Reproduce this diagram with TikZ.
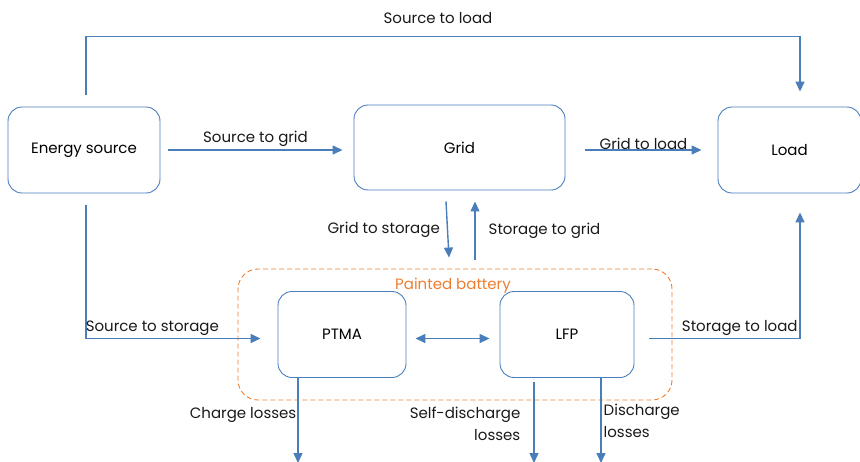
\documentclass[tikz,border=0pt]{standalone}
\usepackage{fontspec}
\setmainfont{Poppins}
\usetikzlibrary{arrows.meta, positioning}
\definecolor{flowblue}{HTML}{4A7EBB}
\definecolor{batteryorange}{HTML}{ED7D31}

\begin{document}
\begin{tikzpicture}[x=1pt, y=-1pt,
    block/.style={rectangle, rounded corners=14pt, draw=flowblue, line width=0.9pt, minimum width=152pt, minimum height=86pt, font=\fontsize{15}{18}\selectfont},
    flow/.style={draw=flowblue, line width=1.4pt, >={Triangle[length=10pt, width=9pt]}, ->},
    flow label/.style={font=\fontsize{15}{22}\selectfont, text=black!90, inner sep=1pt}
]
    \useasboundingbox (0,0) rectangle (860,461);

    % --- BLOCKS ---
    \node[block] (src) at (84,150) {Energy source};
    \node[block, minimum width=211pt, minimum height=85pt] (grid) at (459.5,147.5) {Grid};
    \node[block, minimum width=143pt] (load) at (789.5,150) {Load};

    % --- PAINTED BATTERY ---
    \node[draw=batteryorange, dash pattern=on 5pt off 3pt, line width=0.9pt, rounded corners=20pt, minimum width=434pt, minimum height=131pt] (battery) at (455,334.5) {};
    \node[font=\fontsize{15}{18}\selectfont, text=batteryorange, inner sep=0pt] (batterylabel) at (453,286) {Painted battery};
    \node[block, minimum width=128pt] (ptma) at (342,334.5) {PTMA};
    \node[block, minimum width=134pt] (lfp) at (567,334.5) {LFP};

    % free ends of the loss arrows
    \coordinate (chargeout) at (298,463);
    \coordinate (selfout) at (534,463);
    \coordinate (dischargeout) at (601,463);

    % --- FLOWS ---
    \draw[flow] ([xshift=2pt, yshift=12pt]src.north) -- ++(0,-58) -| ([xshift=10.5pt, yshift=15pt]load.north);
    \node[flow label] (s2l) at (438,18) {Source to load};

    \draw[flow] ([xshift=8pt]src.east) -- ([xshift=-11pt]src.east -| grid.west)
        node[midway, above=2pt, flow label] {Source to grid};
    \draw[flow] ([xshift=20pt]grid.east |- src.east) -- ([xshift=-16pt]load.west)
        node[midway, above=-1pt, flow label] {Grid to load};

    \draw[flow] ([xshift=-13.5pt, yshift=-11pt]grid.south) -- ([xshift=-6pt, yshift=11pt]battery.north)
        node[midway, left=6pt, flow label] {Grid to storage};
    \draw[flow] ([xshift=20pt, yshift=9pt]battery.north) -- ([xshift=15.5pt, yshift=-11pt]grid.south)
        node[midway, right=12pt, flow label] {Storage to grid};

    \draw[flow] ([xshift=2pt, yshift=-12pt]src.south) |- ([xshift=-17pt, yshift=-4pt]ptma.west)
        node[pos=0.69, above=1pt, flow label] {Source to storage};
    \draw[flow, <->] ([xshift=9pt, yshift=-4pt]ptma.east) -- ([xshift=-10pt, yshift=-4pt]lfp.west);
    \draw[flow] ([xshift=15pt, yshift=-4pt]lfp.east) -| ([xshift=10.5pt, yshift=-19pt]load.south)
        node[pos=0.3, above=1pt, flow label] {Storage to load};

    \draw[flow] ([xshift=-44pt]ptma.south) -- (chargeout)
        node[pos=0.43, left=0pt, flow label] {Charge losses};
    \draw[flow] ([xshift=-33pt, yshift=-4pt]lfp.south) -- (selfout)
        node[pos=0.52, left=12pt, align=right, flow label] {Self-discharge\\losses};
    \draw[flow] ([xshift=34pt]lfp.south) -- (dischargeout)
        node[pos=0.5, right=1pt, align=left, flow label] {Discharge\\losses};
\end{tikzpicture}
\end{document}
